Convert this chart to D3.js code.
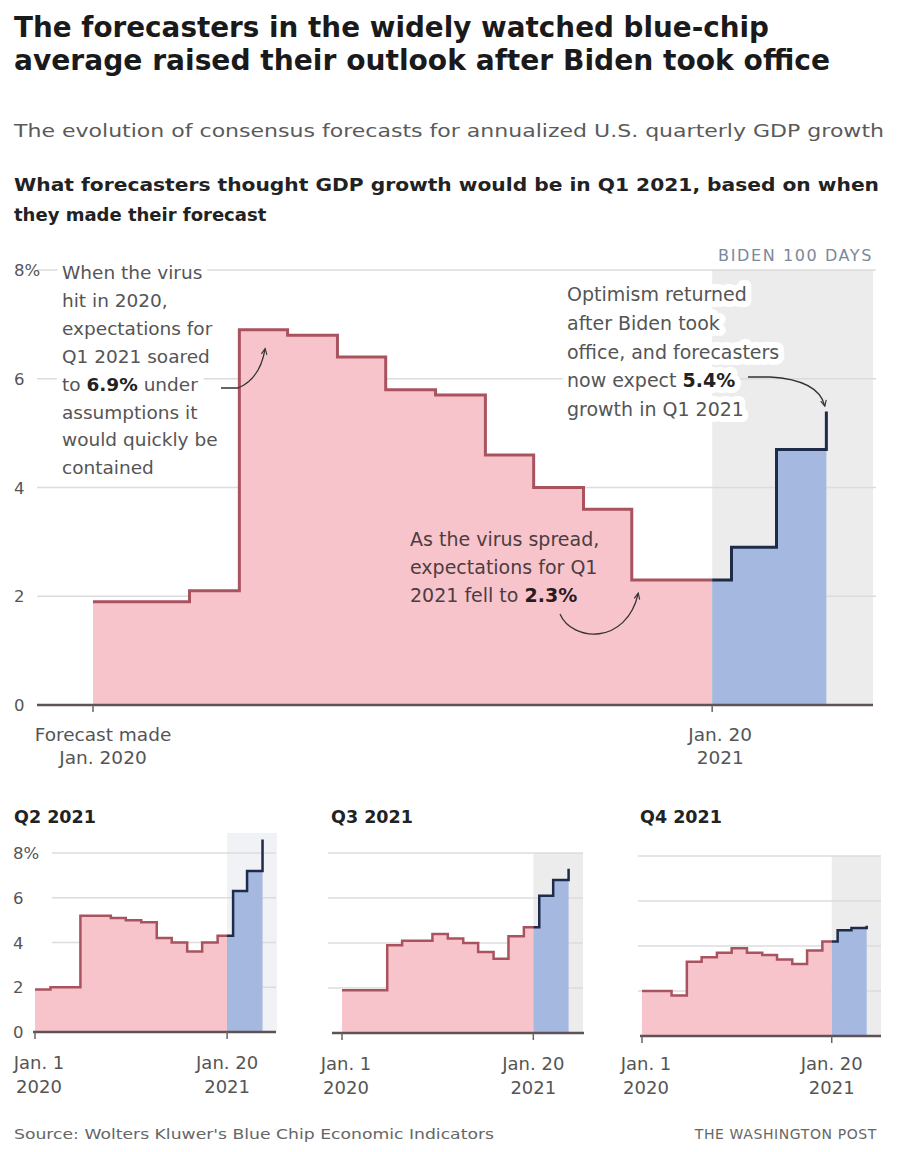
<!DOCTYPE html>
<html>
<head>
<meta charset="utf-8">
<script src="https://cdn.jsdelivr.net/npm/d3@7"></script>
<style>
  body { margin: 0; background: #fff; }
  svg text { font-family: "DejaVu Sans", Verdana, sans-serif; }
</style>
</head>
<body>
<svg id="chart" width="900" height="1152"></svg>
<script>
// ---------------- DATA ----------------
// Month in which each Blue Chip consensus forecast was made (Jan 2020 - Apr 2021)
const forecastMonths = d3.range(16).map(i => new Date(2020, i, 1));
// Consensus forecasts (annualized %, quarterly GDP growth) for each target quarter
const q1Values = [1.9, 1.9, 2.1, 6.9, 6.8, 6.4, 5.8, 5.7, 4.6, 4.0, 3.6, 2.3, 2.3, 2.9, 4.7, 5.4];
const q2Values = [1.9, 2.0, 2.0, 5.2, 5.2, 5.1, 5.0, 4.9, 4.2, 4.0, 3.6, 4.0, 4.3, 6.3, 7.2, 8.6];
const q3Values = [1.9, 1.9, 1.9, 3.9, 4.1, 4.1, 4.4, 4.2, 4.0, 3.6, 3.3, 4.3, 4.7, 6.1, 6.8, 7.3];
const q4Values = [2.0, 2.0, 1.8, 3.3, 3.5, 3.7, 3.9, 3.7, 3.6, 3.4, 3.2, 3.8, 4.2, 4.7, 4.8, 4.9];
const yTicks = [0, 2, 4, 6, 8];
const yTickLabels = ["0", "2", "4", "6", "8%"];
const startDate = new Date(2020, 0, 1);
const inauguration = new Date(2021, 0, 20);
const hundredDays = new Date(2021, 3, 30);

// ---------------- STYLE ----------------
const PINK = "#f8c4cc", RED = "#a9535f", BLUE = "#a5b8df", NAVY = "#1f2b4b";
const SHADE = "#ececec", GRID = "#dcdcdc", AXIS = "#5e5256", TXT = "#555";

const svg = d3.select("#chart");
const defs = svg.append("defs");
defs.append("marker").attr("id", "arrow")
  .attr("viewBox", "0 0 10 10").attr("refX", 8).attr("refY", 5)
  .attr("markerWidth", 8).attr("markerHeight", 8)
  .attr("markerUnits", "userSpaceOnUse").attr("orient", "auto")
  .append("path").attr("d", "M1,1.5 L8.5,5 L1,8.5")
  .attr("fill", "none").attr("stroke", "#333").attr("stroke-width", 1.4);

// ---------------- HEADER ----------------
function txt(x, y, s, o = {}) {
  const t = svg.append("text").attr("x", x).attr("y", y)
    .attr("font-size", o.size || 16).attr("fill", o.fill || "#222")
    .attr("font-weight", o.weight || "normal").text(s);
  if (o.len) t.attr("textLength", o.len).attr("lengthAdjust", "spacingAndGlyphs");
  if (o.anchor) t.attr("text-anchor", o.anchor);
  if (o.ls) t.attr("letter-spacing", o.ls);
  return t;
}
txt(14, 37, "The forecasters in the widely watched blue-chip", {size: 28, weight: "bold", fill: "#1a1a1a", len: 755});
txt(14, 70, "average raised their outlook after Biden took office", {size: 28, weight: "bold", fill: "#1a1a1a", len: 816});
txt(14, 137, "The evolution of consensus forecasts for annualized U.S. quarterly GDP growth", {size: 18.5, fill: "#5a5a5a", len: 870});
txt(14, 191, "What forecasters thought GDP growth would be in Q1 2021, based on when", {size: 18, weight: "bold", fill: "#222", len: 865});
txt(14, 221, "they made their forecast", {size: 18, weight: "bold", fill: "#222"});

// ---------------- PANEL DRAWER ----------------
function drawPanel(cfg) {
  const g = svg.append("g");
  const x = d3.scaleTime().domain([startDate, hundredDays]).range(cfg.xRange);
  const y = d3.scaleLinear().domain([0, 8]).range(cfg.yRange);
  const data = forecastMonths.map((d, i) => ({date: d, v: cfg.values[i]}));

  // Biden 100 days shading
  g.append("rect")
    .attr("x", x(inauguration)).attr("y", y(cfg.shadeTopValue))
    .attr("width", x(hundredDays) - x(inauguration))
    .attr("height", y(0) - y(cfg.shadeTopValue))
    .attr("fill", cfg.shadeColor || SHADE);

  // grid
  g.selectAll("line.grid").data(yTicks.filter(t => t > 0)).join("line")
    .attr("class", "grid")
    .attr("x1", cfg.gridX[0]).attr("x2", cfg.gridX[1])
    .attr("y1", d => y(d)).attr("y2", d => y(d))
    .attr("stroke", GRID).attr("stroke-width", 1.5);

  // clip paths
  const idL = cfg.id + "L", idR = cfg.id + "R";
  defs.append("clipPath").attr("id", idL).append("rect")
    .attr("x", 0).attr("y", 0).attr("width", x(inauguration)).attr("height", 1152);
  defs.append("clipPath").attr("id", idR).append("rect")
    .attr("x", x(inauguration)).attr("y", 0).attr("width", 900).attr("height", 1152);

  const area = d3.area().curve(d3.curveStepAfter)
    .x(d => x(d.date)).y0(y(0)).y1(d => y(d.v));
  const line = d3.line().curve(d3.curveStepAfter)
    .x(d => x(d.date)).y(d => y(d.v));

  g.append("path").datum(data).attr("d", area).attr("fill", PINK).attr("clip-path", `url(#${idL})`);
  g.append("path").datum(data).attr("d", area).attr("fill", BLUE).attr("clip-path", `url(#${idR})`);
  g.append("path").datum(data).attr("d", line).attr("fill", "none")
    .attr("stroke", RED).attr("stroke-width", cfg.strokeW).attr("clip-path", `url(#${idL})`);
  g.append("path").datum(data).attr("d", line).attr("fill", "none")
    .attr("stroke", NAVY).attr("stroke-width", cfg.strokeW).attr("clip-path", `url(#${idR})`);

  // baseline
  g.append("line").attr("x1", cfg.baseX[0]).attr("x2", cfg.baseX[1])
    .attr("y1", y(0)).attr("y2", y(0))
    .attr("stroke", AXIS).attr("stroke-width", 2.5);
  // ticks
  g.selectAll("line.tick").data([startDate, inauguration]).join("line")
    .attr("class", "tick")
    .attr("x1", d => x(d)).attr("x2", d => x(d))
    .attr("y1", y(0)).attr("y2", y(0) + 7)
    .attr("stroke", "#666").attr("stroke-width", 1.5);

  // y labels
  if (cfg.yLabels) {
    g.selectAll("text.ylab").data(yTicks).join("text")
      .attr("class", "ylab")
      .attr("x", cfg.yLabelX).attr("y", d => y(d) + 6)
      .attr("font-size", 16.5).attr("fill", TXT)
      .text((d, i) => yTickLabels[i]);
  }
  // x labels
  cfg.xLabels.forEach(lab => {
    const t = g.append("text").attr("text-anchor", "middle")
      .attr("font-size", cfg.xFont).attr("fill", TXT);
    lab.lines.forEach((s, i) => {
      t.append("tspan").attr("x", x(lab.date) + lab.dx)
        .attr("y", y(0) + cfg.xLabelDy + i * cfg.xLabelLH).text(s);
    });
  });
  // panel title
  if (cfg.title) {
    g.append("text").attr("x", cfg.title.x).attr("y", cfg.title.y)
      .attr("font-size", 17.5).attr("font-weight", "bold").attr("fill", "#222")
      .text(cfg.title.text);
  }
  return {x, y, g};
}

// ---------------- MAIN CHART (Q1 2021) ----------------
const main = drawPanel({
  id: "m", values: q1Values,
  xRange: [93, 873], yRange: [705, 270],
  gridX: [37, 876], baseX: [37, 873], shadeTopValue: 8, strokeW: 3,
  yLabels: true, yLabelX: 14,
  xFont: 18.5, xLabelDy: 36, xLabelLH: 23,
  xLabels: [
    {date: startDate, dx: 10, lines: ["Forecast made", "Jan. 2020"]},
    {date: inauguration, dx: 8, lines: ["Jan. 20", "2021"]}
  ]
});

// Biden 100 days label
svg.append("text").attr("x", main.x(hundredDays)).attr("y", 261)
  .attr("text-anchor", "end").attr("font-size", 16).attr("letter-spacing", 1.6)
  .attr("fill", "#7b889b").text("BIDEN 100 DAYS");

// annotations
function annotation(x, y0, lh, lines, o) {
  const t = svg.append("text").attr("font-size", o.size).attr("fill", o.fill);
  if (o.halo) {
    t.attr("stroke", "#fff").attr("stroke-width", o.halo)
     .attr("stroke-linejoin", "round").attr("paint-order", "stroke");
  }
  lines.forEach((ln, i) => {
    const parts = Array.isArray(ln) ? ln : [ln];
    const first = t.append("tspan").attr("x", x).attr("y", y0 + i * lh);
    parts.forEach((p, j) => {
      const s = j === 0 ? first : t.append("tspan");
      s.text(p);
      if (Array.isArray(ln) && /%/.test(p)) s.attr("font-weight", "bold").attr("fill", o.boldFill);
    });
  });
}
annotation(62, 279, 27.9,
  ["When the virus", "hit in 2020,", "expectations for", "Q1 2021 soared",
   ["to ", "6.9%", " under"], "assumptions it", "would quickly be", "contained"],
  {size: 18.5, fill: "#555", boldFill: "#222", halo: 12});
annotation(567, 301, 28.8,
  ["Optimism returned", "after Biden took", "office, and forecasters",
   ["now expect ", "5.4%"], "growth in Q1 2021"],
  {size: 19, fill: "#555", boldFill: "#222", halo: 12});
annotation(410, 546, 28,
  ["As the virus spread,", "expectations for Q1", ["2021 fell to ", "2.3%"]],
  {size: 19, fill: "#4d3c40", boldFill: "#2a1a1e"});

// arrows (endpoints anchored to the data scales)
const mx = main.x, my = main.y;
const a1 = [mx(new Date(2020, 3, 17)), my(6.55)];
svg.append("path")
  .attr("d", `M221,388 H238 Q${a1[0] - 5},${a1[1] + 30} ${a1[0]},${a1[1]}`)
  .attr("fill", "none").attr("stroke", "#333").attr("stroke-width", 1.3)
  .attr("marker-end", "url(#arrow)");
const a2 = [mx(new Date(2021, 2, 31)), my(5.5)];
svg.append("path")
  .attr("d", `M748,377 H770 Q${a2[0] - 6},${a2[1] - 26} ${a2[0]},${a2[1]}`)
  .attr("fill", "none").attr("stroke", "#333").attr("stroke-width", 1.3)
  .attr("marker-end", "url(#arrow)");
const a3 = [mx(new Date(2020, 11, 5)), my(2.05)];
svg.append("path")
  .attr("d", `M560,614 C572,642 ${a3[0] - 12},${a3[1] + 52} ${a3[0]},${a3[1]}`)
  .attr("fill", "none").attr("stroke", "#333").attr("stroke-width", 1.3)
  .attr("marker-end", "url(#arrow)");

// ---------------- SMALL MULTIPLES ----------------
const smallLabels = (dx1) => [
  {date: startDate, dx: dx1, lines: ["Jan. 1", "2020"]},
  {date: inauguration, dx: 0, lines: ["Jan. 20", "2021"]}
];
drawPanel({
  id: "q2", values: q2Values,
  xRange: [35, 277], yRange: [1032, 853],
  gridX: [52, 276], baseX: [33, 276], shadeTopValue: 8.9, strokeW: 2.5,
  shadeColor: "#f1f2f5",
  yLabels: true, yLabelX: 13,
  xFont: 18, xLabelDy: 37, xLabelLH: 24,
  xLabels: smallLabels(4),
  title: {x: 14, y: 823, text: "Q2 2021"}
});
drawPanel({
  id: "q3", values: q3Values,
  xRange: [342, 583], yRange: [1033, 853],
  gridX: [328, 583], baseX: [332, 584], shadeTopValue: 8, strokeW: 2.5,
  yLabels: false,
  xFont: 18, xLabelDy: 37, xLabelLH: 24,
  xLabels: smallLabels(4),
  title: {x: 331, y: 823, text: "Q3 2021"}
});
drawPanel({
  id: "q4", values: q4Values,
  xRange: [642, 881], yRange: [1036, 856],
  gridX: [638, 881], baseX: [640, 881], shadeTopValue: 8, strokeW: 2.5,
  yLabels: false,
  xFont: 18, xLabelDy: 34, xLabelLH: 24,
  xLabels: smallLabels(4),
  title: {x: 640, y: 823, text: "Q4 2021"}
});

// ---------------- FOOTER ----------------
txt(14, 1139, "Source: Wolters Kluwer's Blue Chip Economic Indicators", {size: 14, fill: "#666", len: 480});
txt(877, 1139, "THE WASHINGTON POST", {size: 14, fill: "#666", anchor: "end", ls: 0.6});
</script>
</body>
</html>
